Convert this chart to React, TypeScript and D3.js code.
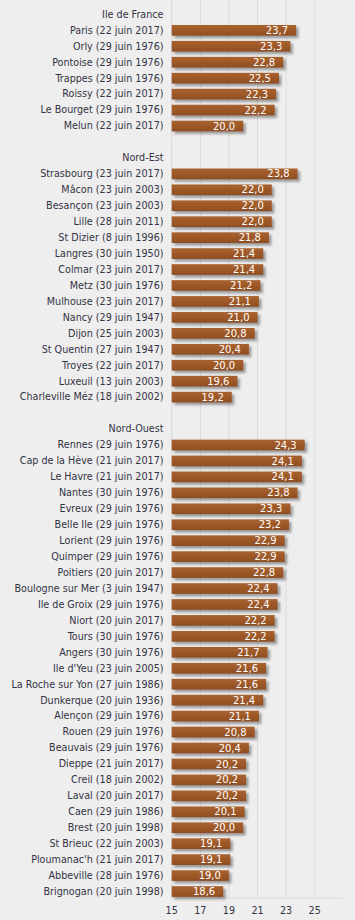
import React from "react";
import * as d3 from "d3";

const idfNames = ["Paris (22 juin 2017)", "Orly (29 juin 1976)", "Pontoise (29 juin 1976)", "Trappes (29 juin 1976)", "Roissy (22 juin 2017)", "Le Bourget (29 juin 1976)", "Melun (22 juin 2017)"];
const idfValues = [23.7, 23.3, 22.8, 22.5, 22.3, 22.2, 20.0];

const neNames = ["Strasbourg (23 juin 2017)", "Mâcon (23 juin 2003)", "Besançon (23 juin 2003)", "Lille (28 juin 2011)", "St Dizier (8 juin 1996)", "Langres (30 juin 1950)", "Colmar (23 juin 2017)", "Metz (30 juin 1976)", "Mulhouse (23 juin 2017)", "Nancy (29 juin 1947)", "Dijon (25 juin 2003)", "St Quentin (27 juin 1947)", "Troyes (22 juin 2017)", "Luxeuil (13 juin 2003)", "Charleville Méz (18 juin 2002)"];
const neValues = [23.8, 22.0, 22.0, 22.0, 21.8, 21.4, 21.4, 21.2, 21.1, 21.0, 20.8, 20.4, 20.0, 19.6, 19.2];

const noNames = ["Rennes (29 juin 1976)", "Cap de la Hève (21 juin 2017)", "Le Havre (21 juin 2017)", "Nantes (30 juin 1976)", "Evreux (29 juin 1976)", "Belle Ile (29 juin 1976)", "Lorient (29 juin 1976)", "Quimper (29 juin 1976)", "Poitiers (20 juin 2017)", "Boulogne sur Mer (3 juin 1947)", "Ile de Groix (29 juin 1976)", "Niort (20 juin 2017)", "Tours (30 juin 1976)", "Angers (30 juin 1976)", "Ile d'Yeu (23 juin 2005)", "La Roche sur Yon (27 juin 1986)", "Dunkerque (20 juin 1936)", "Alençon (29 juin 1976)", "Rouen (29 juin 1976)", "Beauvais (29 juin 1976)", "Dieppe (21 juin 2017)", "Creil (18 juin 2002)", "Laval (20 juin 2017)", "Caen (29 juin 1986)", "Brest (20 juin 1998)", "St Brieuc (22 juin 2003)", "Ploumanac'h (21 juin 2017)", "Abbeville (28 juin 1976)", "Brignogan (20 juin 1998)"];
const noValues = [24.3, 24.1, 24.1, 23.8, 23.3, 23.2, 22.9, 22.9, 22.8, 22.4, 22.4, 22.2, 22.2, 21.7, 21.6, 21.6, 21.4, 21.1, 20.8, 20.4, 20.2, 20.2, 20.2, 20.1, 20.0, 19.1, 19.1, 19.0, 18.6];

const groupTitles = ["Ile de France", "Nord-Est", "Nord-Ouest"];
const xTicks = [15, 17, 19, 21, 23, 25];
const xDomain = [15, 27];

type Row = { key: string; label: string; value: number | null; header: boolean };

export default function App() {
  const W = 355, H = 920;
  const groups = [
    { title: groupTitles[0], names: idfNames, values: idfValues },
    { title: groupTitles[1], names: neNames, values: neValues },
    { title: groupTitles[2], names: noNames, values: noValues },
  ];
  const rows: Row[] = [];
  groups.forEach((g, gi) => {
    if (gi > 0) rows.push({ key: "blank" + gi, label: "", value: null, header: false });
    rows.push({ key: "h" + gi, label: g.title, value: null, header: true });
    g.names.forEach((n, i) => rows.push({ key: "r" + gi + "-" + i, label: n, value: g.values[i], header: false }));
  });

  const x = d3.scaleLinear().domain(xDomain).range([171.7, 343.3]);
  const y = d3.scaleBand<string>().domain(rows.map(r => r.key)).range([6.4, 899.5]).paddingInner(0.33).paddingOuter(0.165);
  const axisY = 898;
  const fmt = (v: number) => d3.format(".1f")(v).replace(".", ",");
  const font = "'DejaVu Sans', Verdana, sans-serif";

  return (
    <svg width={W} height={H} style={{ position: "absolute", left: 0, top: 0, background: "#eeeeee" }} fontFamily={font}>
      <defs>
        <linearGradient id="barGrad" x1="0" y1="0" x2="0" y2="1">
          <stop offset="0" stopColor="#a8622f" />
          <stop offset="0.5" stopColor="#9e5828" />
          <stop offset="1" stopColor="#8e4e22" />
        </linearGradient>
        <filter id="shadow" x="-10%" y="-50%" width="130%" height="250%">
          <feDropShadow dx="2.5" dy="2.5" stdDeviation="1.3" floodColor="#555" floodOpacity="0.55" />
        </filter>
      </defs>
      <rect x={0} y={0} width={W} height={H} fill="#eeeeee" />
      {xTicks.map(t => (
        <line key={"g" + t} x1={x(t)} x2={x(t)} y1={0} y2={axisY} stroke="#d9d9d9" strokeWidth={1} />
      ))}
      <line x1={x(xDomain[0])} x2={x(xDomain[1])} y1={axisY} y2={axisY} stroke="#d9d9d9" strokeWidth={1} />
      {rows.map(r => {
        const yc = (y(r.key) as number) + y.bandwidth() / 2;
        return (
          <g key={r.key}>
            {r.label && (
              <text x={163.5} y={yc} dy="0.35em" textAnchor="end" fontSize={9.6} fill="#333344">{r.label}</text>
            )}
            {r.value !== null && (
              <g>
                <rect x={x(xDomain[0])} y={y(r.key)} width={x(r.value) - x(xDomain[0])} height={y.bandwidth()} fill="url(#barGrad)" filter="url(#shadow)" />
                <text x={x(r.value) - 8} y={yc} dy="0.36em" textAnchor="end" fontSize={10} fill="#ffffff">{fmt(r.value)}</text>
              </g>
            )}
          </g>
        );
      })}
      {xTicks.map(t => (
        <text key={"t" + t} x={x(t)} y={911} dy="0.35em" textAnchor="middle" fontSize={9.6} fill="#333344">{t}</text>
      ))}
    </svg>
  );
}
